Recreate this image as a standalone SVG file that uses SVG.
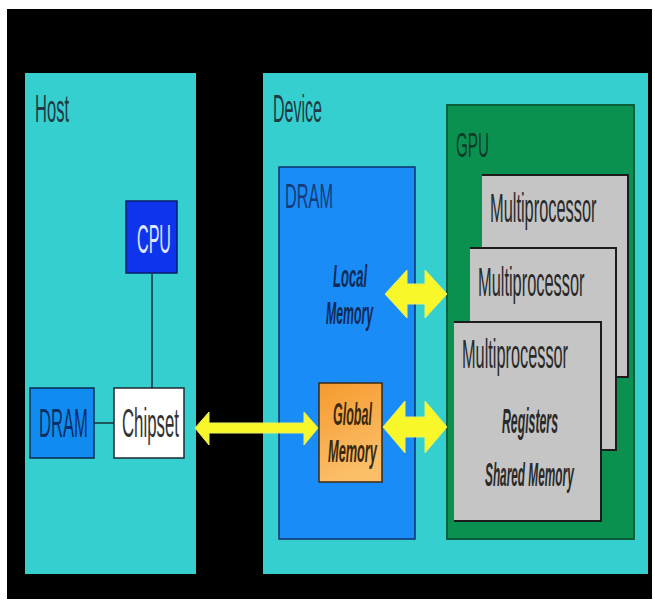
<svg xmlns="http://www.w3.org/2000/svg" width="655" height="603" viewBox="0 0 655 603">
  <defs>
    <linearGradient id="orange" x1="0" y1="0" x2="0.3" y2="1">
      <stop offset="0" stop-color="#f59a2e"/>
      <stop offset="1" stop-color="#fbbf6a"/>
    </linearGradient>
    <style>
      text { font-family: "Liberation Sans", Arial, sans-serif; }
      .panel { fill: #35cfd0; }
      .lbl { fill: #1f3a44; }
      .mp { fill: #c5c5c5; }
      .mpedge { fill: none; stroke: #1c1c1c; stroke-width: 2; }
      .mpt { fill: #2a2a2a; font-size: 40px; }
      .conn { stroke: #163038; stroke-width: 1.5; fill: none; }
      .arrow { fill: #f7f72a; stroke: #e8f060; stroke-width: 1; }
      .it { font-style: italic; font-weight: bold; }
    </style>
  </defs>

  <rect x="0" y="0" width="655" height="603" fill="#ffffff"/>
  <rect x="7" y="9" width="645" height="590" fill="#000000"/>

  <g id="host">
    <rect class="panel" x="25" y="73" width="171" height="501"/>
    <text class="lbl" transform="translate(35,122) scale(0.435,1)" font-size="38">Host</text>
  </g>

  <g id="device">
    <rect class="panel" x="263" y="73" width="385" height="501"/>
    <text class="lbl" transform="translate(273,122) scale(0.422,1)" font-size="38">Device</text>
  </g>

  <g id="gpu">
    <rect x="447" y="105" width="187" height="434" fill="#0a9150" stroke="#0b5e3a" stroke-width="2"/>
    <text transform="translate(456,157) scale(0.423,1)" font-size="36" fill="#123a28">GPU</text>
  </g>

  <g id="device-dram">
    <rect x="279" y="167" width="136" height="372" fill="#1a8cf8" stroke="#10306a" stroke-width="1.5"/>
    <text transform="translate(285,208) scale(0.453,1)" font-size="36" fill="#153c7a">DRAM</text>
  </g>

  <g id="local-memory">
    <text class="it" transform="translate(333,287) scale(0.42,1)" font-size="31" fill="#112a55">Local</text>
    <text class="it" transform="translate(326,324) scale(0.383,1)" font-size="32" fill="#112a55">Memory</text>
  </g>

  <g id="global-memory">
    <rect x="319" y="383" width="63" height="99" fill="url(#orange)" stroke="#3a2a10" stroke-width="1.5"/>
    <text class="it" transform="translate(333,425) scale(0.404,1)" font-size="31" fill="#3a2810">Global</text>
    <text class="it" transform="translate(328,462) scale(0.412,1)" font-size="31" fill="#3a2810">Memory</text>
  </g>

  <g id="multiprocessor-3">
    <rect class="mp" x="482" y="175" width="146" height="202"/>
    <path class="mpedge" d="M482,175 H628 V377 H600"/>
    <text class="mpt" transform="translate(490,222) scale(0.41,1)">Multiprocessor</text>
  </g>

  <g id="multiprocessor-2">
    <rect class="mp" x="470" y="248" width="146" height="202"/>
    <path class="mpedge" d="M470,248 H616 V450 H600"/>
    <text class="mpt" transform="translate(478,296) scale(0.41,1)">Multiprocessor</text>
  </g>

  <g id="multiprocessor-1">
    <rect class="mp" x="454" y="322" width="147" height="199"/>
    <path class="mpedge" d="M454,322 H601 V521 H454"/>
    <text class="mpt" transform="translate(462,368) scale(0.408,1)">Multiprocessor</text>
    <text class="it" transform="translate(502,433) scale(0.351,1)" font-size="35" fill="#2a2a2a">Registers</text>
    <text class="it" transform="translate(485,486) scale(0.348,1)" font-size="34" fill="#2a2a2a">Shared Memory</text>
  </g>

  <g id="cpu">
    <rect x="126" y="201" width="51" height="72" fill="#0f34ee" stroke="#0a1d6a" stroke-width="1.5"/>
    <text transform="translate(137,253) scale(0.393,1)" font-size="41" fill="#dfe6ff">CPU</text>
  </g>

  <g id="host-dram">
    <rect x="30" y="388" width="64" height="70" fill="#108cf0" stroke="#0c2850" stroke-width="1.5"/>
    <text transform="translate(39,437) scale(0.416,1)" font-size="40" fill="#0c2f66">DRAM</text>
  </g>

  <g id="chipset">
    <rect x="114" y="388" width="70" height="70" fill="#ffffff" stroke="#1c2a30" stroke-width="1.5"/>
    <text transform="translate(122,437) scale(0.42,1)" font-size="40" fill="#333333">Chipset</text>
  </g>

  <g id="connectors">
    <line class="conn" x1="152" y1="273" x2="152" y2="388"/>
    <line class="conn" x1="94" y1="423" x2="114" y2="423"/>
    <polygon class="arrow" points="195,428 209,412 209,423 304,423 304,412 318,428 304,445 304,433 209,433 209,445"/>
    <polygon class="arrow" points="385,294 407,270 407,284 425,284 425,270 447,294 425,318 425,304 407,304 407,318"/>
    <polygon class="arrow" points="383,427 405,401 405,417 425,417 425,401 447,427 425,453 425,437 405,437 405,453"/>
  </g>
</svg>
